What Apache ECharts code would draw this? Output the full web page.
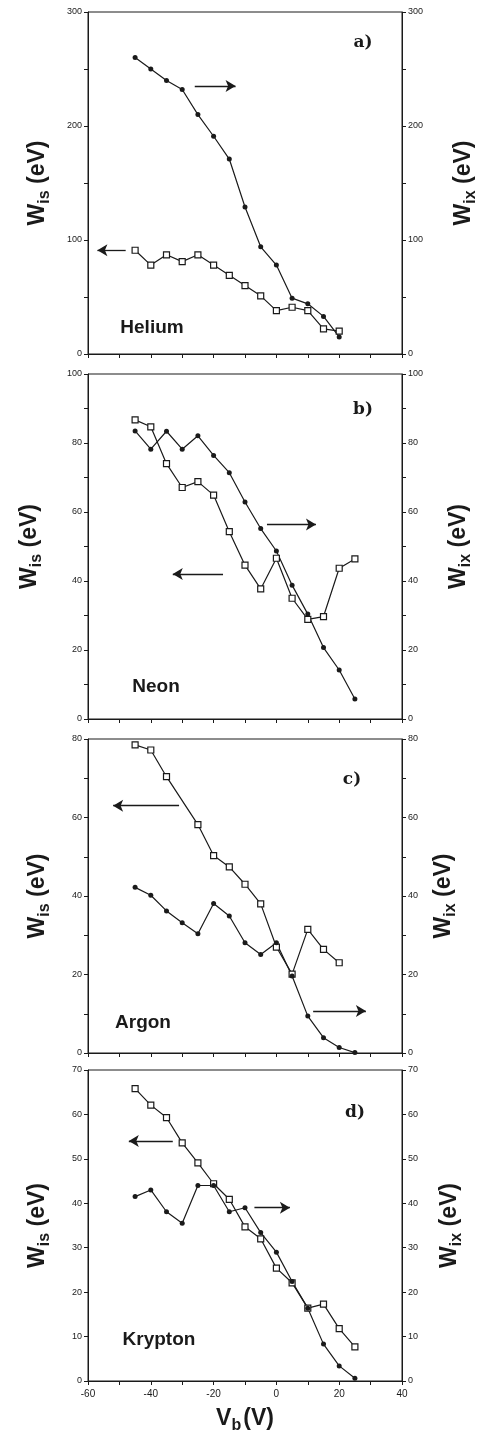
<!DOCTYPE html>
<html>
<head>
<meta charset="utf-8">
<script src="https://cdn.jsdelivr.net/npm/echarts@6/dist/echarts.min.js"></script>
<style>
  html, body { margin: 0; padding: 0; background: #fff; }
  #chart { width: 490px; height: 1435px; }
</style>
</head>
<body>
<div id="chart"></div>
<script>
// bias voltage V_b (V)
var vb = [-45, -40, -35, -30, -25, -20, -15, -10, -5, 0, 5, 10, 15, 20, 25];

// W_is (open squares, left axis) and W_ix (filled dots, right axis), eV
var heIs = [91, 78, 87, 81, 87, 78, 69, 60, 51, 38, 41, 38, 22, 20];
var heIx = [260, 250, 240, 232, 210, 191, 171, 129, 94, 78, 49, 44, 33, 15];
var neIs = [86.7, 84.7, 74.0, 67.1, 68.8, 64.9, 54.3, 44.6, 37.7, 46.6, 35.0, 28.9, 29.7, 43.7, 46.4];
var neIx = [83.5, 78.2, 83.4, 78.2, 82.1, 76.4, 71.4, 62.9, 55.2, 48.7, 38.8, 30.4, 20.7, 14.2, 5.8];
var arIs = [78.5, 77.2, 70.4, null, 58.2, 50.3, 47.4, 43.0, 38.0, 27.0, 20.1, 31.5, 26.4, 23.0];
var arIx = [42.2, 40.2, 36.2, 33.2, 30.4, 38.1, 34.9, 28.1, 25.1, 28.1, 19.6, 9.4, 3.9, 1.4, 0.1];
var krIs = [65.8, 62.1, 59.3, 53.6, 49.1, 44.4, 40.9, 34.7, 32.0, 25.4, 22.1, 16.4, 17.3, 11.8, 7.7];
var krIx = [41.5, 43.0, 38.1, 35.5, 44.0, 44.0, 38.1, 39.0, 33.4, 29.0, 22.4, 16.4, 8.3, 3.4, 0.6];

var gases = ['Helium', 'Neon', 'Argon', 'Krypton'];
var tags = ['a)', 'b)', 'c)', 'd)'];
var yMax = [300, 100, 80, 70];
var yStep = [50, 10, 10, 10];
var yLabelStep = [100, 20, 20, 10];

// arrows pointing to the axis each curve belongs to: [x1, y1, x2, y2]
var arrowsIs = [[-48, 91, -57, 91], [-17, 42, -33, 42], [-31, 63, -52, 63], [-33, 54, -47, 54]];
var arrowsIx = [[-26, 235, -13, 235], [-3, 56.4, 12.6, 56.4], [11.7, 10.7, 28.5, 10.7], [-7, 39, 4.3, 39]];

var isData = [heIs, neIs, arIs, krIs];
var ixData = [heIx, neIx, arIx, krIx];

var grids = [
    {top: 12, height: 342},
    {top: 374, height: 345},
    {top: 739, height: 314},
    {top: 1070, height: 311}
];
var leftGap = [38, 46, 38, 38];
var rightGap = [50, 45, 28, 36];

var ink = '#1a1a1a';
var font = '"Liberation Sans", Arial, sans-serif';

function pairs(ys) {
    var out = [];
    for (var i = 0; i < ys.length; i++) out.push([vb[i], ys[i]]);
    return out;
}

function arrow(a) {
    return [{coord: [a[0], a[1]]}, {coord: [a[2], a[3]]}];
}

var titleRich = {
    w: {fontSize: 23, fontFamily: font, fontWeight: 'bold', color: ink, lineHeight: 24},
    s: {fontSize: 16, fontFamily: font, fontWeight: 'bold', color: ink, lineHeight: 16, padding: [14, 0, 0, 0]},
    g: {fontSize: 16, fontFamily: font, fontWeight: 'bold', color: ink, lineHeight: 16, padding: [14, 2, 0, 0]}
};

var option = {
    animation: false,
    backgroundColor: '#fff',
    grid: [],
    xAxis: [],
    yAxis: [],
    series: [],
    graphic: []
};

for (var p = 0; p < 4; p++) {
    option.grid.push({
        left: 88, width: 314, top: grids[p].top, height: grids[p].height,
        show: true, borderColor: ink, borderWidth: 1
    });
    option.xAxis.push({
        gridIndex: p, type: 'value', min: -60, max: 40, interval: 10,
        axisLine: {onZero: false, lineStyle: {color: ink, width: 1}},
        axisTick: {length: 4, lineStyle: {color: ink}},
        splitLine: {show: false},
        axisLabel: {
            show: p === 3, color: ink, fontSize: 10, fontFamily: font, margin: 8,
            formatter: function (v) { return v % 20 === 0 ? String(v) : ''; }
        },
        name: p === 3 ? '{w|V}{g|b}{w|(V)}' : '',
        nameLocation: 'middle', nameGap: 26,
        nameTextStyle: {rich: titleRich}
    });
    var fmt = (function (st) {
        return function (v) { return v % st === 0 ? String(v) : ''; };
    })(yLabelStep[p]);
    option.yAxis.push({
        gridIndex: p, type: 'value', min: 0, max: yMax[p], interval: yStep[p], position: 'left',
        axisLine: {show: true, onZero: false, lineStyle: {color: ink}},
        axisTick: {show: true, length: 4, lineStyle: {color: ink}},
        splitLine: {show: false},
        axisLabel: {color: ink, fontSize: 9, fontFamily: font, margin: 6, formatter: fmt},
        name: '{w|W}{s|is}{w| (eV)}', nameLocation: 'middle', nameRotate: 90, nameGap: leftGap[p],
        nameTextStyle: {rich: titleRich}
    });
    option.yAxis.push({
        gridIndex: p, type: 'value', min: 0, max: yMax[p], interval: yStep[p], position: 'right',
        axisLine: {show: true, onZero: false, lineStyle: {color: ink}},
        axisTick: {show: true, length: 4, lineStyle: {color: ink}},
        splitLine: {show: false},
        axisLabel: {color: ink, fontSize: 9, fontFamily: font, margin: 6, formatter: fmt},
        name: '{w|W}{s|ix}{w| (eV)}', nameLocation: 'middle', nameRotate: 90, nameGap: rightGap[p],
        nameTextStyle: {rich: titleRich}
    });

    option.series.push({
        name: gases[p] + ' W_is', type: 'line',
        xAxisIndex: p, yAxisIndex: 2 * p,
        data: pairs(isData[p]), connectNulls: true,
        symbol: 'rect', symbolSize: 6,
        itemStyle: {color: '#fff', borderColor: ink, borderWidth: 1.2},
        lineStyle: {color: ink, width: 1.2},
        markLine: {
            silent: true, symbol: ['none', 'arrow'], symbolSize: [9, 10],
            lineStyle: {color: ink, width: 1.3, type: 'solid'},
            label: {show: false},
            data: [arrow(arrowsIs[p]), arrow(arrowsIx[p])]
        }
    });
    option.series.push({
        name: gases[p] + ' W_ix', type: 'line',
        xAxisIndex: p, yAxisIndex: 2 * p + 1,
        data: pairs(ixData[p]),
        symbol: 'circle', symbolSize: 5,
        itemStyle: {color: ink},
        lineStyle: {color: ink, width: 1.2}
    });
}

// panel tags and gas names
var tagPos = [[363, 43], [363, 410], [352, 780], [355, 1113]];
var gasPos = [[152, 328], [156, 687], [143, 1023], [159, 1340]];
for (var k = 0; k < 4; k++) {
    option.graphic.push({
        type: 'text', x: tagPos[k][0], y: tagPos[k][1],
        style: {
            text: tags[k], font: 'bold 17px "DejaVu Serif", serif', fill: ink,
            align: 'center', verticalAlign: 'middle'
        }
    });
    option.graphic.push({
        type: 'text', x: gasPos[k][0], y: gasPos[k][1],
        style: {
            text: gases[k], font: 'bold 19px "Liberation Sans", Arial, sans-serif', fill: ink,
            align: 'center', verticalAlign: 'middle'
        }
    });
}

var chart = echarts.init(document.getElementById('chart'));
chart.setOption(option);
</script>
</body>
</html>
